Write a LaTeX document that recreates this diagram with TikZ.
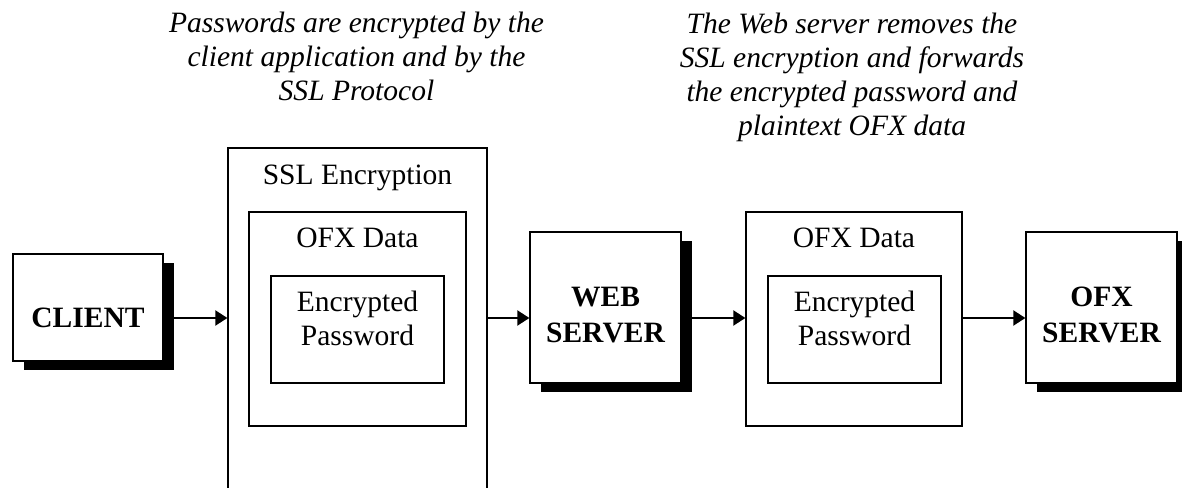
\documentclass[tikz,border=0pt]{standalone}
\usepackage{fontspec}
\setmainfont{Liberation Serif}
\usetikzlibrary{arrows.meta,shadows}

\begin{document}
\begin{tikzpicture}[
    every node/.style={font=\fontsize{21}{24.2}\selectfont},
    framebox/.style={draw, line width=0.9pt, fill=white, inner sep=0pt},
    srvbox/.style={framebox, drop shadow={shadow xshift=0.27cm, shadow yshift=-0.22cm, fill=black, opacity=1}},
    boxlabel/.style={anchor=north, inner sep=0pt, align=center},
    srvlabel/.style={inner sep=0pt, align=center, font=\fontsize{21}{25.6}\selectfont\bfseries},
    note/.style={anchor=north, inner sep=0pt, align=center, font=\fontsize{21}{24.2}\selectfont\itshape},
    flow/.style={line width=1.4pt, -{Triangle[length=0.3cm, width=0.375cm]}}
  ]
  \useasboundingbox (0,0) rectangle (29.55,12.175);

  \node[note] (notessl) at (8.9125,11.875)
    {Passwords are encrypted by the\\client application and by the\\SSL Protocol};
  \node[note] (noteweb) at (21.3,11.85)
    {The Web server removes the\\SSL encryption and forwards\\the encrypted password and\\plaintext OFX data};

  \node[srvbox, minimum width=3.75cm, minimum height=2.675cm,
    label={[srvlabel, yshift=-0.25cm]center:CLIENT}] (client) at (2.2,4.4875) {};

  \node[framebox, minimum width=6.475cm, minimum height=8.975cm,
    label={[boxlabel, yshift=-0.425cm]north:SSL Encryption}] (ssl) at (8.9375,3.9875) {};
  \node[framebox, minimum width=5.425cm, minimum height=5.35cm,
    label={[boxlabel, yshift=-0.4cm]north:OFX Data}] (data1) at (8.9375,4.2) {};
  \node[framebox, minimum width=4.325cm, minimum height=2.675cm,
    label={[boxlabel, yshift=-0.375cm]north:Encrypted\\Password}] (pw1) at (8.9375,3.9375) {};

  \node[srvbox, minimum width=3.775cm, minimum height=3.775cm,
    label={[srvlabel, yshift=-0.19cm]center:WEB\\SERVER}] (web) at (15.1375,4.4875) {};

  \node[framebox, minimum width=5.4cm, minimum height=5.35cm,
    label={[boxlabel, yshift=-0.4cm]north:OFX Data}] (data2) at (21.35,4.2) {};
  \node[framebox, minimum width=4.325cm, minimum height=2.675cm,
    label={[boxlabel, yshift=-0.375cm]north:Encrypted\\Password}] (pw2) at (21.3625,3.9375) {};

  \node[srvbox, minimum width=3.775cm, minimum height=3.775cm,
    label={[srvlabel, yshift=-0.19cm]center:OFX\\SERVER}] (ofxsrv) at (27.5375,4.4875) {};

  \coordinate (lvl) at (0,4.225);
  \begin{scope}[flow]
    \draw (client.east |- lvl) -- (ssl.west |- lvl);
    \draw (ssl.east |- lvl) -- (web.west |- lvl);
    \draw (web.east |- lvl) -- (data2.west |- lvl);
    \draw (data2.east |- lvl) -- (ofxsrv.west |- lvl);
  \end{scope}
\end{tikzpicture}
\end{document}
